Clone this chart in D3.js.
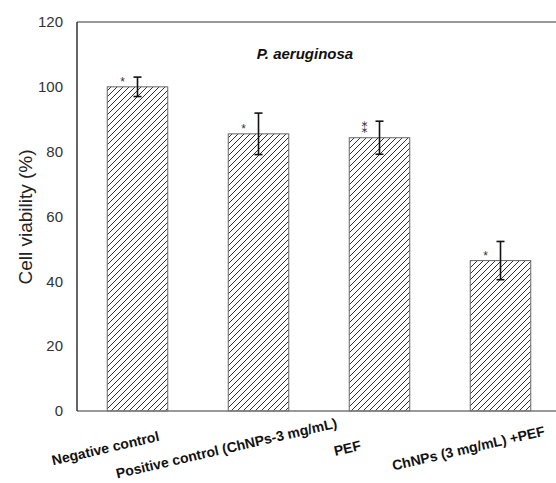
<!DOCTYPE html>
<html>
<head>
<meta charset="utf-8">
<script src="https://cdn.jsdelivr.net/npm/d3@7"></script>
<style>
  body { margin: 0; background: #fff; }
  svg { font-family: "Liberation Sans", Arial, sans-serif; }
</style>
</head>
<body>
<div id="chart"></div>
<script>
// data
const categories = ["Negative control", "Positive control (ChNPs-3 mg/mL)", "PEF", "ChNPs (3 mg/mL) +PEF"];
const viability = [100, 85.5, 84.3, 46.4];
const errors = [3, 6.4, 5.1, 5.9];
const stars = ["*", "*", "**", "*"];
const yTicks = [0, 20, 40, 60, 80, 100, 120];

const w = 556, h = 483;
const margin = {top: 22, left: 77, bottom: 72};
const plotW = 484; // runs past the right edge, like the original crop

let svg = d3.select("#chart").append("svg")
  .attr("width", w)
  .attr("height", h);

// hatch
svg.append("defs").append("pattern")
  .attr("id", "hatch")
  .attr("patternUnits", "userSpaceOnUse")
  .attr("width", 6)
  .attr("height", 6)
  .append("path")
    .attr("d", "M-1,1 L1,-1 M0,6 L6,0 M5,7 L7,5")
    .attr("stroke", "#333")
    .attr("stroke-width", 1);

let x = d3.scaleBand()
  .domain(categories)
  .range([margin.left, margin.left + plotW])
  .paddingInner(0.5)
  .paddingOuter(0.25);

let y = d3.scaleLinear()
  .domain([0, 120])
  .range([h - margin.bottom, margin.top]);

// frame
svg.append("line")
  .attr("x1", margin.left).attr("x2", margin.left + plotW)
  .attr("y1", y(120)).attr("y2", y(120))
  .attr("stroke", "#777").attr("stroke-width", 1.3);

// y axis labels (no tick marks)
let yAxis = d3.axisLeft(y).tickValues(yTicks).tickSize(0).tickPadding(14);
let gy = svg.append("g")
  .attr("transform", "translate(" + margin.left + ",0)")
  .call(yAxis);
gy.select(".domain").remove();
gy.selectAll("text")
  .style("font-size", "15px")
  .attr("fill", "#333");

// bars
svg.selectAll("rect.bar")
  .data(categories)
  .enter().append("rect")
    .attr("class", "bar")
    .attr("x", d => x(d))
    .attr("y", (d, i) => y(viability[i]))
    .attr("width", x.bandwidth())
    .attr("height", (d, i) => y(0) - y(viability[i]))
    .attr("fill", "url(#hatch)")
    .attr("stroke", "#666")
    .attr("stroke-width", 1);

// error bars
let eb = svg.selectAll("g.err")
  .data(categories)
  .enter().append("g")
    .attr("class", "err")
    .attr("stroke", "#111")
    .attr("stroke-width", 1.6);

eb.append("line")
  .attr("x1", d => x(d) + x.bandwidth() / 2)
  .attr("x2", d => x(d) + x.bandwidth() / 2)
  .attr("y1", (d, i) => y(viability[i] + errors[i]))
  .attr("y2", (d, i) => y(viability[i] - errors[i]));
eb.append("line")
  .attr("x1", d => x(d) + x.bandwidth() / 2 - 4)
  .attr("x2", d => x(d) + x.bandwidth() / 2 + 4)
  .attr("y1", (d, i) => y(viability[i] + errors[i]))
  .attr("y2", (d, i) => y(viability[i] + errors[i]));
eb.append("line")
  .attr("x1", d => x(d) + x.bandwidth() / 2 - 4)
  .attr("x2", d => x(d) + x.bandwidth() / 2 + 4)
  .attr("y1", (d, i) => y(viability[i] - errors[i]))
  .attr("y2", (d, i) => y(viability[i] - errors[i]));

// significance stars (double star drawn as one glyph so nothing overlaps)
svg.selectAll("text.star")
  .data(categories)
  .enter().append("text")
    .attr("class", "star")
    .attr("x", d => x(d) + x.bandwidth() / 2 - 15)
    .attr("y", (d, i) => y(viability[i]) - (stars[i].length > 1 ? 5 : 1))
    .attr("text-anchor", "middle")
    .style("font-family", (d, i) => stars[i].length > 1 ? "DejaVu Sans" : null)
    .style("font-size", (d, i) => stars[i].length > 1 ? "12px" : "12px")
    .attr("fill", "#333")
    .text((d, i) => stars[i].length > 1 ? "\u2051" : "*");

// axis lines
svg.append("line")
  .attr("x1", margin.left).attr("x2", margin.left + plotW)
  .attr("y1", y(0)).attr("y2", y(0))
  .attr("stroke", "#777").attr("stroke-width", 1.3);
svg.append("line")
  .attr("x1", margin.left).attr("x2", margin.left)
  .attr("y1", y(0)).attr("y2", y(120))
  .attr("stroke", "#333").attr("stroke-width", 1.5);

// category labels, tilted
svg.selectAll("text.cat")
  .data(categories)
  .enter().append("text")
    .attr("class", "cat")
    .attr("transform", d => "translate(" + (x(d) + x.bandwidth() / 2 - 31) + ",453) rotate(-13)")
    .attr("text-anchor", "middle")
    .style("font-size", "14px")
    .style("font-weight", "bold")
    .attr("fill", "#111")
    .text(d => d);

// title
svg.append("text")
  .attr("x", 305)
  .attr("y", 59)
  .attr("text-anchor", "middle")
  .style("font-size", "15px")
  .style("font-weight", "bold")
  .style("font-style", "italic")
  .attr("fill", "#111")
  .text("P. aeruginosa");

// y label
svg.append("text")
  .attr("transform", "translate(32,217) rotate(-90)")
  .attr("text-anchor", "middle")
  .style("font-size", "19px")
  .attr("fill", "#222")
  .text("Cell viability (%)");
</script>
</body>
</html>
